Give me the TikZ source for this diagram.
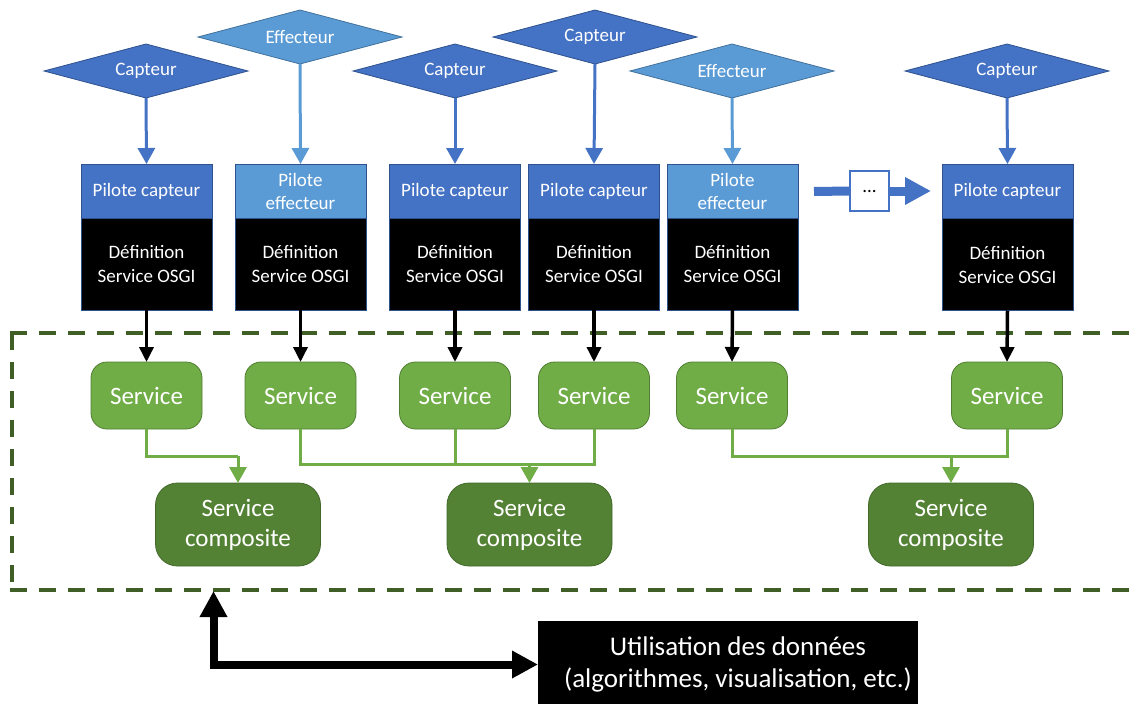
\documentclass[tikz,border=0pt]{standalone}
\usepackage{fontspec}
\setmainfont{Carlito}
\usetikzlibrary{shapes.geometric,arrows.meta}
\definecolor{capblue}{HTML}{4472C4}
\definecolor{capedge}{HTML}{2F528F}
\definecolor{effblue}{HTML}{5B9BD5}
\definecolor{effedge}{HTML}{41719C}
\definecolor{svgreen}{HTML}{70AD47}
\definecolor{svedge}{HTML}{507E32}
\definecolor{cpgreen}{HTML}{548235}
\definecolor{cpedge}{HTML}{42682A}
\definecolor{zone}{HTML}{3F5F27}
\newcommand\fsz[2]{\fontsize{#1pt}{#2pt}\selectfont}

\begin{document}
\begin{tikzpicture}[x=1pt,y=-1pt,
  every node/.style={inner sep=0pt, outer sep=0pt, align=center},
  devbase/.style={diamond, shape aspect=3.78, minimum width=204pt, minimum height=54pt,
    line width=0.8pt, text=white, font=\fsz{19}{23}},
  sensor/.style={devbase, fill=capblue, draw=capedge},
  actuator/.style={devbase, fill=effblue, draw=effedge},
  pilotbox/.style={rectangle, minimum width=131pt, minimum height=54pt, line width=0.8pt,
    draw=capedge, text=white, font=\fsz{19}{23}},
  pilcap/.style={pilotbox, fill=capblue},
  pileff/.style={pilotbox, fill=effblue},
  defbox/.style={rectangle, minimum width=131pt, minimum height=92pt, line width=0.8pt,
    fill=black, draw=capedge, text=white, font=\fsz{19}{24}},
  svc/.style={rectangle, rounded corners=16pt, minimum width=111pt, minimum height=67pt,
    fill=svgreen, draw=svedge, line width=0.8pt, text=white, font=\fsz{25}{30}},
  comp/.style={rectangle, rounded corners=22pt, minimum width=165pt, minimum height=83pt,
    fill=cpgreen, draw=cpedge, line width=0.8pt, text=white, font=\fsz{25}{30}},
  capline/.style={draw=capblue, line width=3pt, -{Triangle[width=17pt,length=16pt]}},
  effline/.style={draw=effblue, line width=3pt, -{Triangle[width=17pt,length=16pt]}},
  blkline/.style={draw=black, line width=3.5pt, -{Triangle[width=14pt,length=15pt]}},
  gline/.style={draw=svgreen, line width=3pt},
  garrow/.style={gline, -{Triangle[width=17pt,length=16pt]}},
  zoneline/.style={draw=zone, line width=3.5pt, dash pattern=on 17pt off 12pt},
]
\useasboundingbox (0,0) rectangle (1138,704);
\clip (0,0) rectangle (1138,704);

% devices
\node[sensor]   (dv1) at (146,71) {Capteur};
\node[actuator] (dv2) at (300,37) {Effecteur};
\node[sensor]   (dv3) at (455,71) {Capteur};
\node[sensor]   (dv4) at (595,37) {Capteur};
\node[actuator] (dv5) at (732,71) {Effecteur};
\node[sensor]   (dv6) at (1007,71) {Capteur};

% drivers
\node[pilcap] (pl1) at (146.5,191) {Pilote capteur};
\node[pileff] (pl2) at (300.5,191) {Pilote\\effecteur};
\node[pilcap] (pl3) at (455,191) {Pilote capteur};
\node[pilcap] (pl4) at (594,191) {Pilote capteur};
\node[pileff] (pl5) at (732.5,191) {Pilote\\effecteur};
\node[pilcap] (pl6) at (1007.5,191) {Pilote capteur};

% OSGI service definitions
\node[defbox] (df1) at (146.5,264) {Définition\\Service OSGI};
\node[defbox] (df2) at (300.5,264) {Définition\\Service OSGI};
\node[defbox] (df3) at (455,264) {Définition\\Service OSGI};
\node[defbox] (df4) at (594,264) {Définition\\Service OSGI};
\node[defbox] (df5) at (732.5,264) {Définition\\Service OSGI};
\node[defbox] (df6) at (1007.5,264.5) {Définition\\Service OSGI};

% device -> driver
\draw[capline] (dv1.south) -- (pl1.north);
\draw[effline] (dv2.south) -- (pl2.north);
\draw[capline] (dv3.south) -- (pl3.north);
\draw[capline] (dv4.south) -- (pl4.north);
\draw[effline] (dv5.south) -- (pl5.north);
\draw[capline] (dv6.south) -- (pl6.north);

% more drivers
\coordinate (more) at (814,191.5);
\node[rectangle, minimum width=39pt, minimum height=40pt, fill=white, draw=capblue,
  line width=1.2pt, font=\fsz{19}{23}] (dots) at (869.5,191) {\raisebox{-2pt}{...}};
\draw[draw=capblue, line width=9pt] (more) -- (dots.west);
\draw[draw=capblue, line width=9pt, shorten >=11pt, -{Triangle[width=26pt,length=26pt]}]
  (dots.east) -- (pl6.west);

% service zone
\draw[zoneline] (10.25,333) -- (1150,333);
\draw[zoneline] (12,333) -- (12,590);
\draw[zoneline] (10.25,590) -- (1150,590);

% services
\node[svc] (sv1) at (146.5,395.5) {Service};
\node[svc] (sv2) at (300.5,395.5) {Service};
\node[svc] (sv3) at (455,395.5) {Service};
\node[svc] (sv4) at (594,395.5) {Service};
\node[svc] (sv5) at (732,395.5) {Service};
\node[svc] (sv6) at (1007,395.5) {Service};

\draw[blkline] (df1.south) -- (sv1.north);
\draw[blkline] (df2.south) -- (sv2.north);
\draw[blkline] (df3.south) -- (sv3.north);
\draw[blkline] (df4.south) -- (sv4.north);
\draw[blkline] (df5.south) -- (sv5.north);
\draw[blkline] (df6.south) -- (sv6.north);

% composite services
\node[comp] (cp1) at (238,524.5) {Service\\composite};
\node[comp] (cp2) at (529.5,524.5) {Service\\composite};
\node[comp] (cp3) at (951,524.5) {Service\\composite};

\coordinate (j1) at (238,456);
\coordinate (j2) at (529.5,464);
\coordinate (j3) at (951,456);

\draw[gline] (sv1.south) |- (j1);
\draw[garrow] (j1) -- (cp1.north);

\draw[gline] (sv2.south) |- (j2);
\draw[gline] (sv4.south) |- (j2);
\draw[gline] (sv3.south) -- (sv3.south |- j2);
\draw[garrow] (j2) -- (cp2.north);

\draw[gline] (sv5.south) |- (j3);
\draw[gline] (sv6.south) |- (j3);
\draw[garrow] (j3) -- (cp3.north);

% data usage
\node[rectangle, minimum width=380pt, minimum height=87pt, fill=black, text=white,
  font=\fsz{27}{32}] (use) at (728,664.5)
  {\hspace*{20pt}Utilisation des données\\\hspace*{20pt}(algorithmes, visualisation, etc.)};
\coordinate (zonein) at (213.5,591);
\draw[line width=8pt, {Triangle[width=26pt,length=26pt]}-{Triangle[width=26pt,length=26pt]}]
  (zonein) |- (use.west);
\end{tikzpicture}
\end{document}
